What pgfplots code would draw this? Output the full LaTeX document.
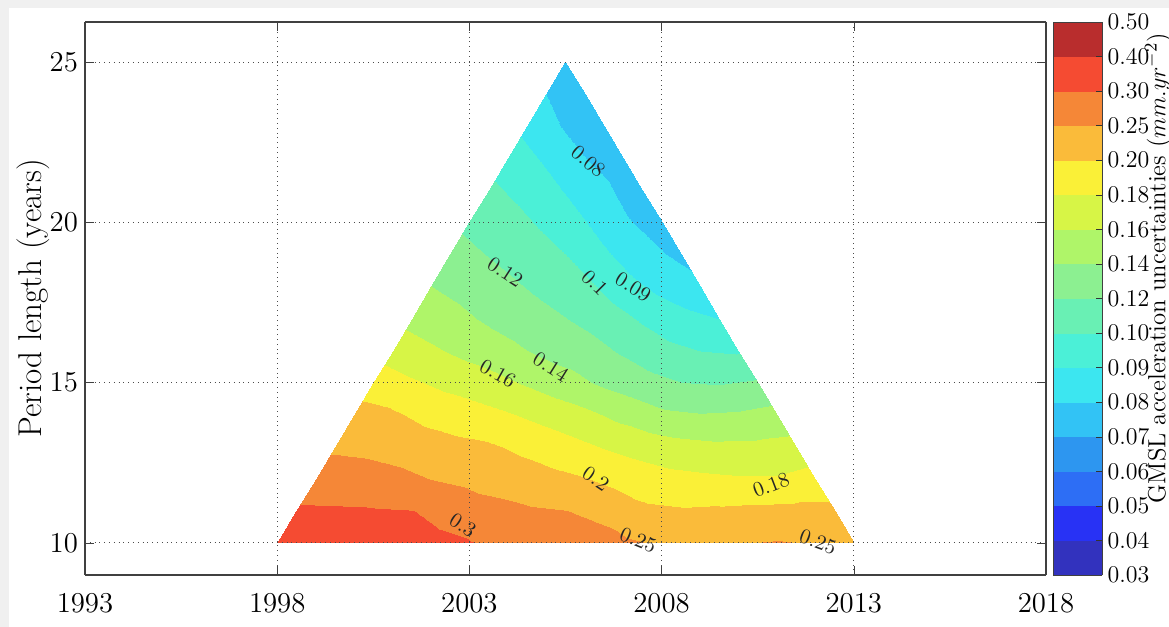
\documentclass[border=0pt]{standalone}
\usepackage{pgfplots}
\pgfplotsset{compat=1.18}
\usepackage{pgfplotstable}

\pgfplotsset{colormap={bands}{
rgb255=(50,50,190) rgb255=(40,50,245) rgb255=(45,110,245) rgb255=(45,150,240)
rgb255=(50,195,245) rgb255=(60,230,240) rgb255=(75,240,215) rgb255=(105,240,180)
rgb255=(140,240,145) rgb255=(175,245,105) rgb255=(215,245,70) rgb255=(250,240,55)
rgb255=(250,187,58) rgb255=(245,135,55) rgb255=(245,75,50) rgb255=(185,45,45)}}

% GMSL acceleration uncertainty: x = centre year, L = period length, v = value
\pgfplotstableread{
x L v
1998 10 0.340
1999 10 0.345
2000 10 0.340
2001 10 0.335
2002 10 0.320
2003 10 0.305
2004 10 0.290
2005 10 0.280
2006 10 0.270
2007 10 0.258
2008 10 0.245
2009 10 0.243
2010 10 0.248
2011 10 0.253
2012 10 0.248
2013 10 0.245
1998.5 11 0.312
1999.5 11 0.310
2000.5 11 0.307
2001.5 11 0.302
2002.5 11 0.287
2003.5 11 0.265
2004.5 11 0.256
2005.5 11 0.251
2006.5 11 0.239
2007.5 11 0.211
2008.5 11 0.205
2009.5 11 0.208
2010.5 11 0.212
2011.5 11 0.2135
2012.5 11 0.213
2012.5 11 0.213
1999 12 0.276
2000 12 0.274
2001 12 0.264
2002 12 0.2494
2003 12 0.238
2004 12 0.230
2005 12 0.216
2006 12 0.2023
2007 12 0.1925
2008 12 0.1867
2009 12 0.184
2010 12 0.182
2011 12 0.182
2012 12 0.188
2012 12 0.188
2012 12 0.188
1999.5 13 0.242
2000.5 13 0.237
2001.5 13 0.227
2002.5 13 0.215
2003.5 13 0.2065
2004.5 13 0.195
2005.5 13 0.1876
2006.5 13 0.179
2007.5 13 0.1725
2008.5 13 0.1666
2009.5 13 0.164
2010.5 13 0.1645
2011.5 13 0.1667
2011.5 13 0.1667
2011.5 13 0.1667
2011.5 13 0.1667
2000 14 0.2157
2001 14 0.2065
2002 14 0.194
2003 14 0.1887
2004 14 0.1817
2005 14 0.1737
2006 14 0.165
2007 14 0.154
2008 14 0.144
2009 14 0.1412
2010 14 0.1426
2011 14 0.1474
2011 14 0.1474
2011 14 0.1474
2011 14 0.1474
2011 14 0.1474
2000.5 15 0.192
2001.5 15 0.1825
2002.5 15 0.1747
2003.5 15 0.1676
2004.5 15 0.1578
2005.5 15 0.1478
2006.5 15 0.1367
2007.5 15 0.128
2008.5 15 0.1204
2009.5 15 0.1188
2010.5 15 0.1225
2010.5 15 0.1225
2010.5 15 0.1225
2010.5 15 0.1225
2010.5 15 0.1225
2010.5 15 0.1225
2001 16 0.171
2002 16 0.163
2003 16 0.1543
2004 16 0.145
2005 16 0.1355
2006 16 0.1283
2007 16 0.1175
2008 16 0.106
2009 16 0.100
2010 16 0.099
2010 16 0.099
2010 16 0.099
2010 16 0.099
2010 16 0.099
2010 16 0.099
2010 16 0.099
2001.5 17 0.1546
2002.5 17 0.1467
2003.5 17 0.137
2004.5 17 0.129
2005.5 17 0.1207
2006.5 17 0.111
2007.5 17 0.0989
2008.5 17 0.0935
2009.5 17 0.090
2009.5 17 0.090
2009.5 17 0.090
2009.5 17 0.090
2009.5 17 0.090
2009.5 17 0.090
2009.5 17 0.090
2009.5 17 0.090
2002 18 0.140
2003 18 0.1322
2004 18 0.1236
2005 18 0.1145
2006 18 0.1049
2007 18 0.0939
2008 18 0.0868
2009 18 0.082
2009 18 0.082
2009 18 0.082
2009 18 0.082
2009 18 0.082
2009 18 0.082
2009 18 0.082
2009 18 0.082
2009 18 0.082
2002.5 19 0.1277
2003.5 19 0.119
2004.5 19 0.1106
2005.5 19 0.100
2006.5 19 0.0915
2007.5 19 0.0832
2008.5 19 0.078
2008.5 19 0.078
2008.5 19 0.078
2008.5 19 0.078
2008.5 19 0.078
2008.5 19 0.078
2008.5 19 0.078
2008.5 19 0.078
2008.5 19 0.078
2008.5 19 0.078
2003 20 0.1155
2004 20 0.1075
2005 20 0.098
2006 20 0.0903
2007 20 0.0813
2008 20 0.076
2008 20 0.076
2008 20 0.076
2008 20 0.076
2008 20 0.076
2008 20 0.076
2008 20 0.076
2008 20 0.076
2008 20 0.076
2008 20 0.076
2008 20 0.076
2003.5 21 0.104
2004.5 21 0.0966
2005.5 21 0.0894
2006.5 21 0.0816
2007.5 21 0.075
2007.5 21 0.075
2007.5 21 0.075
2007.5 21 0.075
2007.5 21 0.075
2007.5 21 0.075
2007.5 21 0.075
2007.5 21 0.075
2007.5 21 0.075
2007.5 21 0.075
2007.5 21 0.075
2007.5 21 0.075
2004 22 0.0952
2005 22 0.0885
2006 22 0.0801
2007 22 0.0755
2007 22 0.0755
2007 22 0.0755
2007 22 0.0755
2007 22 0.0755
2007 22 0.0755
2007 22 0.0755
2007 22 0.0755
2007 22 0.0755
2007 22 0.0755
2007 22 0.0755
2007 22 0.0755
2007 22 0.0755
2004.5 23 0.0875
2005.5 23 0.079
2006.5 23 0.0755
2006.5 23 0.0755
2006.5 23 0.0755
2006.5 23 0.0755
2006.5 23 0.0755
2006.5 23 0.0755
2006.5 23 0.0755
2006.5 23 0.0755
2006.5 23 0.0755
2006.5 23 0.0755
2006.5 23 0.0755
2006.5 23 0.0755
2006.5 23 0.0755
2006.5 23 0.0755
2005 24 0.080
2006 24 0.0755
2006 24 0.0755
2006 24 0.0755
2006 24 0.0755
2006 24 0.0755
2006 24 0.0755
2006 24 0.0755
2006 24 0.0755
2006 24 0.0755
2006 24 0.0755
2006 24 0.0755
2006 24 0.0755
2006 24 0.0755
2006 24 0.0755
2006 24 0.0755
2005.5 25 0.076
2005.5 25 0.076
2005.5 25 0.076
2005.5 25 0.076
2005.5 25 0.076
2005.5 25 0.076
2005.5 25 0.076
2005.5 25 0.076
2005.5 25 0.076
2005.5 25 0.076
2005.5 25 0.076
2005.5 25 0.076
2005.5 25 0.076
2005.5 25 0.076
2005.5 25 0.076
2005.5 25 0.076
}\fieldtable

\begin{document}
\begin{tikzpicture}
\fill[black!6] (-42.5pt,-26pt) rectangle (542pt,287.5pt);
\fill[white] (-38pt,-26pt) rectangle (542pt,283.5pt);
\begin{axis}[
  at={(0,0)}, anchor=south west,
  scale only axis, width=480.5pt, height=276.5pt,
  view={0}{90},
  xmin=1993, xmax=2018, ymin=9, ymax=26.25,
  xtick={1993,1998,2003,2008,2013,2018},
  ytick={10,15,20,25},
  /pgf/number format/1000 sep={},
  grid=major, grid style={dotted, black!70, line width=0.55pt},
  axis on top,
  axis line style={black!75, line width=0.7pt},
  tick style={black!75},
  tick align=inside,
  tick label style={font=\fontsize{15.5}{17}\selectfont},
  xticklabel style={yshift=-6pt},
  ylabel={Period length (years)},
  ylabel style={font=\fontsize{16.5}{19}\selectfont},
  ylabel shift=-7pt,
  colormap name=bands, colormap access=piecewise constant,
  point meta min=0, point meta max=16,
  colorbar,
  colorbar style={
    at={(parent axis.north east)}, anchor=north west, xshift=-5pt,
    scale only axis, width=24.5pt, height=276.5pt,
    grid=none,
    ytick={0,1,...,16},
    yticklabels={0.03,0.04,0.05,0.06,0.07,0.08,0.09,0.10,0.12,0.14,0.16,0.18,0.20,0.25,0.30,0.40,0.50},
    yticklabel pos=right, ytick pos=right,
    yticklabel style={font=\fontsize{12}{14}\selectfont, xshift=-0.8pt},
    tick align=inside, major tick length=3pt,
    tick style={black!80},
    axis line style={black!75},
    ylabel={GMSL acceleration uncertainties ($mm.yr^{-2}$)},
    ylabel near ticks,
    ylabel shift=-9pt,
    ylabel style={font=\fontsize{12.4}{14}\selectfont, at={(ticklabel cs:0.555)}},
  },
]
\addplot3[surf, shader=interp, mesh/rows=16, mesh/cols=16,
  point meta={\thisrow{v}<0.1 ? (\thisrow{v}-0.03)*100 : (\thisrow{v}<0.2 ? 7+(\thisrow{v}-0.1)*50 : (\thisrow{v}<0.3 ? 12+(\thisrow{v}-0.2)*20 : 14+(\thisrow{v}-0.3)*10))}]
  table[x=x, y=L, z=v] {\fieldtable};
\begin{scope}[every node/.style={font=\fontsize{10.5}{12}\selectfont, text=black!85, inner sep=0pt}]
\node[rotate=-40] at (axis cs:2006.09,21.9) {0.08};
\node[rotate=-33] at (axis cs:2003.93,18.45) {0.12};
\node[rotate=-45] at (axis cs:2006.27,18.11) {0.1};
\node[rotate=-32] at (axis cs:2007.26,17.98) {0.09};
\node[rotate=-32] at (axis cs:2005.12,15.49) {0.14};
\node[rotate=-29] at (axis cs:2003.74,15.27) {0.16};
\node[rotate=-34] at (axis cs:2006.29,12.0) {0.2};
\node[rotate=21] at (axis cs:2010.85,11.81) {0.18};
\node[rotate=-33] at (axis cs:2002.83,10.56) {0.3};
\node[rotate=-22] at (axis cs:2007.39,10.09) {0.25};
\node[rotate=-20] at (axis cs:2012.07,10.03) {0.25};
\end{scope}
\end{axis}
\pgfresetboundingbox
\path[use as bounding box] (-42.5pt,-26pt) rectangle (542pt,287.5pt);
\end{tikzpicture}
\end{document}
